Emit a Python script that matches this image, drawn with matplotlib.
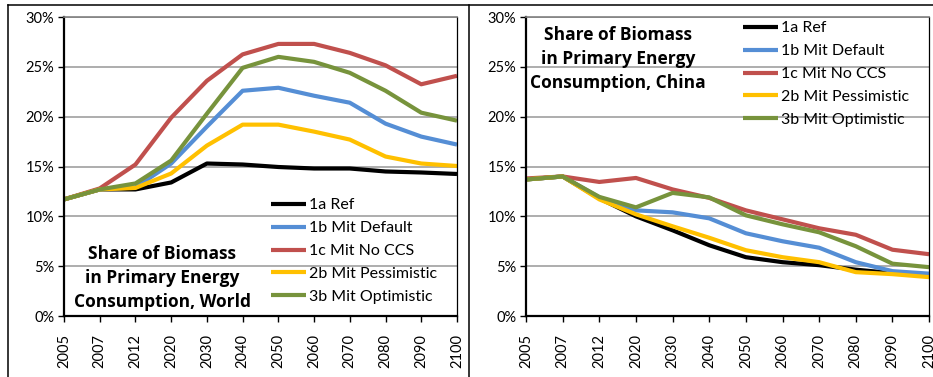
import matplotlib.pyplot as plt
from matplotlib.lines import Line2D
from matplotlib.ticker import PercentFormatter

years = ["2005", "2007", "2012", "2020", "2030", "2040", "2050",
         "2060", "2070", "2080", "2090", "2100"]
labels = ["1a Ref", "1b Mit Default", "1c Mit No CCS",
          "2b Mit Pessimistic", "3b Mit Optimistic"]
colors = ["#000000", "#558ED5", "#C0504D", "#FFC000", "#77933C"]

# share of biomass in primary energy, %
world_ref = [11.7, 12.7, 12.7, 13.4, 15.3, 15.2, 14.95, 14.8, 14.8, 14.5, 14.4, 14.25]
world_default = [11.7, 12.7, 12.9, 15.3, 19.0, 22.6, 22.9, 22.1, 21.4, 19.3, 18.0, 17.2]
world_nocss = [11.7, 12.8, 15.2, 19.9, 23.6, 26.25, 27.3, 27.3, 26.4, 25.15, 23.25, 24.1]
world_pess = [11.7, 12.7, 12.85, 14.3, 17.1, 19.2, 19.2, 18.5, 17.7, 16.0, 15.3, 15.05]
world_opt = [11.7, 12.7, 13.3, 15.6, 20.3, 24.9, 26.0, 25.5, 24.4, 22.6, 20.4, 19.6]

china_ref = [13.7, 14.0, 11.8, 10.0, 8.6, 7.1, 5.9, 5.4, 5.1, 4.65, 4.3, 4.1]
china_default = [13.7, 14.0, 11.9, 10.6, 10.4, 9.8, 8.3, 7.5, 6.85, 5.4, 4.5, 4.25]
china_nocss = [13.8, 14.0, 13.45, 13.85, 12.7, 11.85, 10.6, 9.7, 8.8, 8.15, 6.65, 6.2]
china_pess = [13.7, 14.0, 11.7, 10.2, 9.0, 7.85, 6.6, 5.9, 5.4, 4.4, 4.2, 3.9]
china_opt = [13.7, 14.0, 11.95, 10.9, 12.35, 11.9, 10.1, 9.2, 8.4, 7.0, 5.25, 4.9]

world = [world_ref, world_default, world_nocss, world_pess, world_opt]
china = [china_ref, china_default, china_nocss, china_pess, china_opt]

plt.rcParams["font.family"] = ["Lato", "DejaVu Sans"]

fig = plt.figure(figsize=(9.33, 3.77), dpi=100)
ax1 = fig.add_axes([0.0686, 0.1618, 0.4212, 0.7931])
ax2 = fig.add_axes([0.5638, 0.1618, 0.4320, 0.7931])


def draw(ax, series, title, title_xy, legend_xy):
    x = range(len(years))
    for vals, lab, col in zip(series, labels, colors):
        ax.plot(x, vals, color=col, lw=3.0, label=lab, solid_capstyle="butt")
    ax.set_xlim(0, len(years) - 1)
    ax.set_ylim(0, 30)
    ax.set_yticks(range(0, 31, 5))
    ax.yaxis.set_major_formatter(PercentFormatter(decimals=0))
    ax.set_xticks(list(x))
    ax.set_xticklabels(years, rotation=90)
    ax.grid(axis="y", color="#a0a0a0", lw=1.2)
    ax.set_axisbelow(True)
    ax.tick_params(axis="both", direction="out", length=4, width=1,
                   labelsize=10.5, color="black", pad=3)
    ax.tick_params(axis="x", pad=9)
    for side in ["left", "bottom"]:
        ax.spines[side].set_linewidth(1.6)
    ax.spines["top"].set_color("#808080")
    ax.spines["top"].set_linewidth(1.2)
    ax.spines["right"].set_linewidth(0.9)
    fig.text(title_xy[0], title_xy[1], title, ha="center", va="center",
             fontsize=12.5, fontweight="bold", linespacing=1.45,
             family=["Open Sans", "DejaVu Sans"])
    ax.legend(loc="upper left", bbox_to_anchor=legend_xy,
              bbox_transform=fig.transFigure, frameon=False, fontsize=11.5,
              handlelength=2.2, handletextpad=0.2, labelspacing=0.55,
              borderpad=0, borderaxespad=0)


draw(ax1, world, "Share of Biomass\nin Primary Energy\nConsumption, World",
     (162 / 933, 1 - 278 / 377), (271 / 933, 1 - 198 / 377))
draw(ax2, china, "Share of Biomass\nin Primary Energy\nConsumption, China",
     (618 / 933, 1 - 59 / 377), (743 / 933, 1 - 21 / 377))

# panel frames
W, H = 933, 377
frame = [((8, 8), (5, 377)), ((8, 933), (5, 5)), ((469, 469), (5, 377))]
for xs, ys in frame:
    fig.add_artist(Line2D([v / W for v in xs], [1 - v / H for v in ys],
                          color="black", lw=1.1, transform=fig.transFigure))

fig.savefig("out.png", dpi=100)
